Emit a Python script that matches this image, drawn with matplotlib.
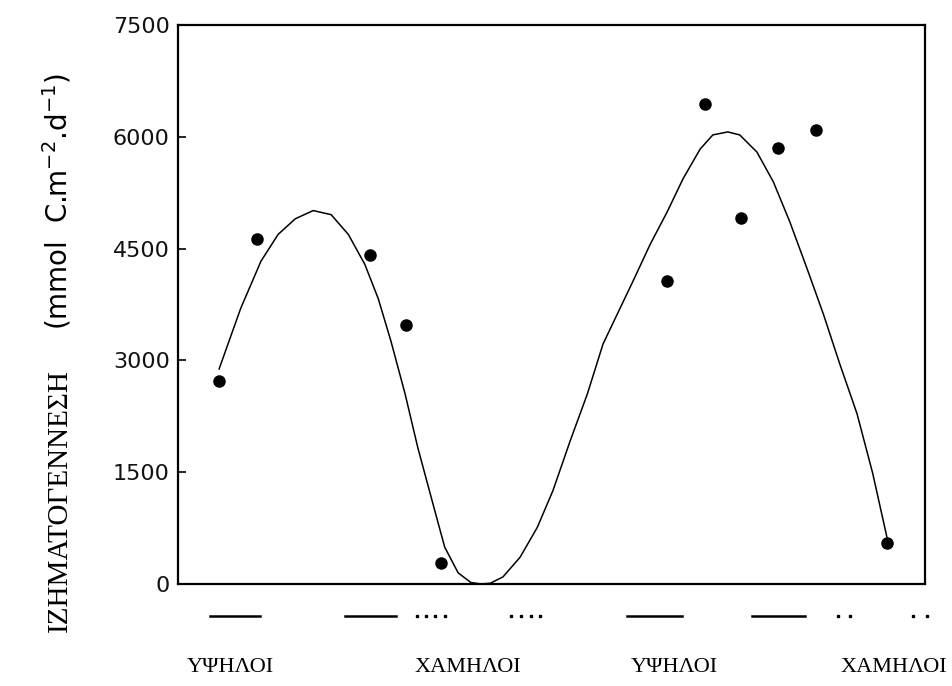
import numpy as np
import matplotlib.pyplot as plt
import matplotlib.transforms as mtransforms

# --------- data ----------------------------
# measured points (x is position along the sampling sequence, 0-100)
obs_x = [5.5, 10.6, 25.7, 30.5, 35.2, 65.5, 70.5, 75.4, 80.3, 85.4, 94.9]
obs_y = [2725, 4635, 4420, 3475, 280, 4060, 6440, 4915, 5850, 6090, 550]

# fitted curve, sampled from the figure
fit_x = [5.5, 8.4, 11.1, 13.4, 15.7, 18.1, 20.5, 22.8, 25.0, 26.8, 28.5,
         30.4, 32.1, 33.9, 35.7, 37.5, 39.2, 40.6, 41.8, 43.5, 45.8, 48.1,
         50.2, 52.5, 54.8, 56.9, 58.8, 60.9, 63.2, 65.5, 67.6, 69.9, 71.6,
         73.6, 75.2, 77.5, 79.7, 81.9, 84.2, 86.4, 88.6, 90.9, 93.0, 94.9]
fit_y = [2885, 3700, 4330, 4690, 4900, 5010, 4955, 4690, 4290, 3830, 3260,
         2550, 1830, 1160, 495, 150, 20, 0, 10, 95, 360, 760,
         1255, 1920, 2550, 3220, 3620, 4060, 4555, 4995, 5435, 5835, 6025,
         6065, 6025, 5795, 5395, 4860, 4235, 3620, 2950, 2285, 1485, 630]

# period markers under the axis: (start, end, kind)
periods = [(4.3, 11.0, "dash"), (22.4, 29.2, "dash"), (32.0, 35.7, "dots4"),
           (44.6, 48.5, "dots4"), (60.1, 67.5, "dash"), (76.8, 83.9, "dash"),
           (88.4, 90.0, "dots2"), (98.4, 100.3, "dots2")]

level_labels = ["ΥΨΗΛΟΙ", "ΧΑΜΗΛΟΙ", "ΥΨΗΛΟΙ", "ΧΑΜΗΛΟΙ"]
level_x = [7.0, 38.8, 66.5, 95.8]

yticks = [0, 1500, 3000, 4500, 6000, 7500]

# --------- figure ----------
fig = plt.figure(figsize=(9.53, 6.86), dpi=100, facecolor="white")
ax = fig.add_axes([0.1868, 0.1487, 0.7838, 0.8149])
ax.set_xlim(0, 100)
ax.set_ylim(0, 7500)

ax.plot(fit_x, fit_y, color="black", lw=1.1, solid_joinstyle="round")
ax.plot(obs_x, obs_y, "o", color="black", ms=8)

ax.set_xticks([])
ax.set_yticks(yticks)
ax.set_yticklabels([str(v) for v in yticks], fontsize=16, color="#111111")
ax.tick_params(axis="y", direction="in", length=6, width=1.2, pad=6)
for s in ax.spines.values():
    s.set_linewidth(1.6)

# period markers and labels below the axes
trans = mtransforms.blended_transform_factory(ax.transData, ax.transAxes)
for x0, x1, kind in periods:
    if kind == "dash":
        ax.plot([x0, x1], [-0.057, -0.057], color="black", lw=1.8,
                transform=trans, clip_on=False)
    else:
        n = 4 if kind == "dots4" else 2
        ax.plot(np.linspace(x0, x1, n), [-0.057] * n, "s", color="black",
                ms=2, transform=trans, clip_on=False)

for lab, xp in zip(level_labels, level_x):
    ax.text(xp, -0.150, lab, transform=trans, ha="center", va="center",
            fontsize=16, family="Liberation Serif", clip_on=False)

# y label: greek word + units
fig.text(0.063, 0.271, "ΙΖΗΜΑΤΟΓΕΝΝΕΣΗ", rotation=90, ha="center",
         va="center", fontsize=21, family="Liberation Serif")
fig.text(0.060, 0.706, r"(mmol  C.m$^{-2}$.d$^{-1}$)", rotation=90,
         ha="center", va="center", fontsize=20, family="DejaVu Sans")

fig.savefig("out.png", dpi=100)
